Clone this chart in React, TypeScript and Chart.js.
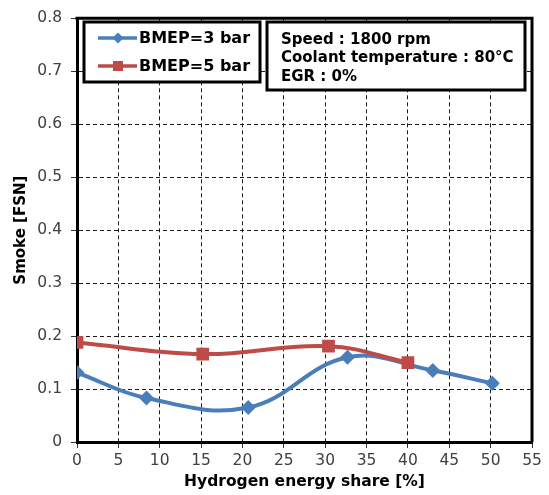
import { useEffect, useRef } from 'react';
import { Chart, registerables } from 'chart.js';

Chart.register(...registerables);

const FONT = '"DejaVu Sans", "Liberation Sans", Arial, sans-serif';

const seriesNames = ['BMEP=3 bar', 'BMEP=5 bar'];
const seriesColors = ['#4A7EBB', '#BE4B48'];
const bmep3X = [0, 8.4, 20.7, 32.7, 43.0, 50.2];
const bmep3Y = [0.131, 0.083, 0.065, 0.16, 0.135, 0.111];
const bmep5X = [0, 15.2, 30.4, 40.0];
const bmep5Y = [0.188, 0.166, 0.181, 0.15];
const xTickRange = [0, 55, 5];
const yTickRange = [0, 0.8, 0.1];
const xTitle = 'Hydrogen energy share [%]';
const yTitle = 'Smoke [FSN]';
const annotationLines = ['Speed : 1800 rpm', 'Coolant temperature : 80°C', 'EGR : 0%'];

function drawDiamond(ctx: CanvasRenderingContext2D, x: number, y: number, r: number) {
  ctx.beginPath();
  ctx.moveTo(x, y - r);
  ctx.lineTo(x + r, y);
  ctx.lineTo(x, y + r);
  ctx.lineTo(x - r, y);
  ctx.closePath();
  ctx.fill();
}

export default function App() {
  const ref = useRef<HTMLCanvasElement>(null);

  useEffect(() => {
    if (!ref.current) return;

    const overlay = {
      id: 'overlay',
      afterDraw(chart: any) {
        const ctx: CanvasRenderingContext2D = chart.ctx;
        const a = chart.chartArea;
        ctx.save();
        // frame top & right
        ctx.strokeStyle = '#000';
        ctx.lineWidth = 3;
        ctx.beginPath();
        ctx.moveTo(a.left - 1.5, a.top);
        ctx.lineTo(a.right, a.top);
        ctx.lineTo(a.right, a.bottom);
        ctx.stroke();

        // legend box
        ctx.fillStyle = '#fff';
        ctx.fillRect(84, 22, 176, 60);
        ctx.lineWidth = 3;
        ctx.strokeRect(84, 22, 176, 60);

        const rows = [38, 66];
        rows.forEach((ry, i) => {
          ctx.strokeStyle = seriesColors[i];
          ctx.lineWidth = 3.5;
          ctx.beginPath();
          ctx.moveTo(98, ry);
          ctx.lineTo(137, ry);
          ctx.stroke();
          ctx.fillStyle = seriesColors[i];
          if (i === 0) drawDiamond(ctx, 118, ry, 5.5);
          else ctx.fillRect(113, ry - 5, 10, 10);
          ctx.fillStyle = '#000';
          ctx.font = 'bold 16px ' + FONT;
          ctx.textBaseline = 'middle';
          ctx.textAlign = 'left';
          ctx.fillText(seriesNames[i], 139, ry + 1);
        });

        // annotation box
        ctx.fillStyle = '#fff';
        ctx.fillRect(267, 22, 258, 68);
        ctx.strokeStyle = '#000';
        ctx.lineWidth = 3;
        ctx.strokeRect(267, 22, 258, 68);
        ctx.fillStyle = '#000';
        ctx.font = 'bold 15px ' + FONT;
        ctx.textBaseline = 'middle';
        ctx.textAlign = 'left';
        annotationLines.forEach((t, i) => {
          ctx.fillText(t, 281, 40 + i * 18.5);
        });
        ctx.restore();
      },
    };

    const chart = new Chart(ref.current, {
      type: 'line',
      data: {
        datasets: [
          {
            label: seriesNames[0],
            data: bmep3X.map((x, i) => ({ x, y: bmep3Y[i] })),
            borderColor: seriesColors[0],
            backgroundColor: seriesColors[0],
            borderWidth: 4,
            pointStyle: 'rectRot',
            pointRadius: 7.5,
            pointBorderWidth: 0,
            tension: 0.4,
            order: 2,
          },
          {
            label: seriesNames[1],
            data: bmep5X.map((x, i) => ({ x, y: bmep5Y[i] })),
            borderColor: seriesColors[1],
            backgroundColor: seriesColors[1],
            borderWidth: 4,
            pointStyle: 'rect',
            pointRadius: 9,
            pointBorderWidth: 0,
            tension: 0.4,
            order: 1,
          },
        ],
      },
      options: {
        responsive: false,
        animation: false,
        layout: { padding: { top: 15, right: 17, left: 0, bottom: 0 } },
        plugins: { legend: { display: false }, tooltip: { enabled: false } },
        scales: {
          x: {
            type: 'linear',
            min: xTickRange[0],
            max: xTickRange[1],
            ticks: {
              stepSize: xTickRange[2],
              color: '#404040',
              font: { family: FONT, size: 15.5 },
              padding: 4,
              maxRotation: 0,
            },
            grid: {
              color: '#1a1a1a',
              lineWidth: 1,
              tickLength: 6,
              tickColor: '#333',
              tickBorderDash: [],
            } as any,
            border: { display: true, color: '#000', width: 3, dash: [4, 3] } as any,
            title: {
              display: true,
              text: xTitle,
              color: '#000',
              font: { family: FONT, size: 15.5, weight: 'bold' },
              padding: { top: 0, bottom: 4 },
            },
            afterFit(scale: any) {
              scale.height = 53;
            },
          },
          y: {
            type: 'linear',
            min: yTickRange[0],
            max: yTickRange[1],
            ticks: {
              stepSize: yTickRange[2],
              color: '#404040',
              font: { family: FONT, size: 15.5 },
              padding: 9,
              callback: (v: any) => (Number(v) === 0 ? '0' : Number(v).toFixed(1)),
            },
            grid: {
              color: '#1a1a1a',
              lineWidth: 1,
              tickLength: 6,
              tickColor: '#333',
              tickBorderDash: [],
            } as any,
            border: { display: true, color: '#000', width: 3, dash: [4, 3] } as any,
            title: {
              display: true,
              text: yTitle,
              color: '#000',
              font: { family: FONT, size: 15, weight: 'bold' },
              padding: { top: 12, bottom: 0 },
            },
            afterFit(scale: any) {
              scale.width = 77;
            },
          },
        },
      },
      plugins: [overlay],
    } as any);

    return () => chart.destroy();
  }, []);

  return (
    <div style={{ position: 'absolute', left: 0, top: 0, width: 549, height: 495, background: '#fff' }}>
      <canvas ref={ref} width={549} height={495} style={{ display: 'block' }} />
    </div>
  );
}
